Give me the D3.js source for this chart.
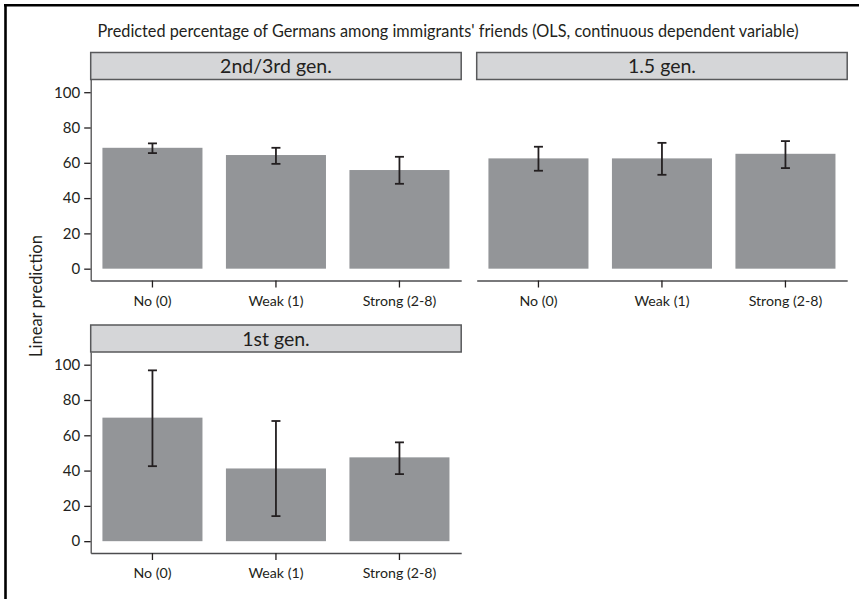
<!DOCTYPE html>
<html>
<head>
<meta charset="utf-8">
<script src="https://cdn.jsdelivr.net/npm/d3@7"></script>
<style>
  html, body { margin: 0; padding: 0; background: #fff; }
  svg { display: block; font-family: Lato, "Open Sans", sans-serif; }
</style>
</head>
<body>
<svg id="chart" width="859" height="599"></svg>
<script>
// Predicted percentage of German friends, by generation and attachment level
const panelTitles = ["2nd/3rd gen.", "1.5 gen.", "1st gen."];
const categories = ["No (0)", "Weak (1)", "Strong (2-8)"];
const yTicks = [0, 20, 40, 60, 80, 100];

const predictionGen23 = [68.5, 64.4, 55.9];
const lowerGen23 = [65.5, 59.4, 48.1];
const upperGen23 = [71.0, 68.5, 63.4];

const predictionGen15 = [62.5, 62.5, 65.1];
const lowerGen15 = [55.5, 53.2, 57.0];
const upperGen15 = [69.1, 71.3, 72.3];

const predictionGen1 = [70.0, 41.2, 47.5];
const lowerGen1 = [42.5, 14.2, 38.0];
const upperGen1 = [96.8, 68.1, 56.0];

const panelData = [
  { title: panelTitles[0], pred: predictionGen23, lo: lowerGen23, hi: upperGen23, col: 0, row: 0 },
  { title: panelTitles[1], pred: predictionGen15, lo: lowerGen15, hi: upperGen15, col: 1, row: 0 },
  { title: panelTitles[2], pred: predictionGen1, lo: lowerGen1, hi: upperGen1, col: 0, row: 1 }
];

const svg = d3.select("#chart");

// frame lines along the top and left edges
svg.append("line").attr("x1", 4).attr("x2", 859).attr("y1", 5.2).attr("y2", 5.2)
  .attr("stroke", "#000").attr("stroke-width", 2.6);
svg.append("line").attr("x1", 5.5).attr("x2", 5.5).attr("y1", 4).attr("y2", 599)
  .attr("stroke", "#000").attr("stroke-width", 2.6);

// overall title
svg.append("text")
  .attr("x", 448).attr("y", 37)
  .attr("text-anchor", "middle")
  .attr("font-size", 16.3)
  .attr("fill", "#231f20")
  .text("Predicted percentage of Germans among immigrants' friends (OLS, continuous dependent variable)");

// shared y-axis title
svg.append("text")
  .attr("transform", "translate(41.5,296) rotate(-90)")
  .attr("text-anchor", "middle")
  .attr("font-size", 16.5)
  .attr("fill", "#231f20")
  .text("Linear prediction");

const colX = [90.7, 476.7];
const rowY = [52.5, 325.0];
const panelW = 370.5;
const stripH = 27;
const plotH = 201;

const y = d3.scaleLinear().domain([-6.7, 107.2]).range([plotH, 0]);
const x = d3.scaleBand().domain(categories).range([0, panelW])
  .paddingInner(0.19).paddingOuter(0.095);

panelData.forEach(p => {
  const g = svg.append("g")
    .attr("transform", `translate(${colX[p.col]},${rowY[p.row]})`);

  // header strip
  g.append("rect")
    .attr("x", 0).attr("y", 0).attr("width", panelW).attr("height", stripH)
    .attr("fill", "#d5d6d8").attr("stroke", "#58595b").attr("stroke-width", 1.5);
  g.append("text")
    .attr("x", panelW / 2).attr("y", stripH / 2 + 7)
    .attr("text-anchor", "middle")
    .attr("font-size", 19.5)
    .attr("fill", "#231f20")
    .text(p.title);

  const plot = g.append("g").attr("transform", `translate(0,${stripH})`);

  const rows = categories.map((c, i) => ({ c, v: p.pred[i], lo: p.lo[i], hi: p.hi[i] }));

  // bars
  plot.selectAll("rect.bar").data(rows).join("rect")
    .attr("class", "bar")
    .attr("x", d => x(d.c))
    .attr("width", x.bandwidth())
    .attr("y", d => y(d.v))
    .attr("height", d => y(0) - y(d.v))
    .attr("fill", "#939598");

  // confidence intervals
  const cap = 4.5;
  const eb = plot.selectAll("g.err").data(rows).join("g")
    .attr("class", "err")
    .attr("transform", d => `translate(${x(d.c) + x.bandwidth() / 2},0)`)
    .attr("stroke", "#231f20").attr("stroke-width", 1.8);
  eb.append("line").attr("y1", d => y(d.lo)).attr("y2", d => y(d.hi));
  eb.append("line").attr("x1", -cap).attr("x2", cap).attr("y1", d => y(d.hi)).attr("y2", d => y(d.hi));
  eb.append("line").attr("x1", -cap).attr("x2", cap).attr("y1", d => y(d.lo)).attr("y2", d => y(d.lo));

  // x axis
  const xa = plot.append("g")
    .attr("transform", `translate(0,${plotH})`)
    .call(d3.axisBottom(x).tickSize(7).tickSizeOuter(0).tickPadding(8));
  xa.select(".domain").attr("stroke", "#4d4d4f").attr("stroke-width", 1.3);
  xa.selectAll(".tick line").attr("stroke", "#231f20").attr("stroke-width", 1.3);
  xa.selectAll(".tick text").attr("font-size", 14.2).attr("fill", "#231f20")
    .attr("font-family", "Lato, sans-serif");

  // y axis on the left column only
  if (p.col === 0) {
    const ya = plot.append("g")
      .call(d3.axisLeft(y).tickValues(yTicks).tickSize(6.5).tickSizeOuter(0).tickPadding(4));
    ya.select(".domain").attr("stroke", "#4d4d4f").attr("stroke-width", 1.3);
    ya.selectAll(".tick line").attr("stroke", "#231f20").attr("stroke-width", 1.3);
    ya.selectAll(".tick text").attr("font-size", 15).attr("fill", "#231f20")
      .attr("font-family", "Lato, sans-serif");
  }
});
</script>
</body>
</html>
